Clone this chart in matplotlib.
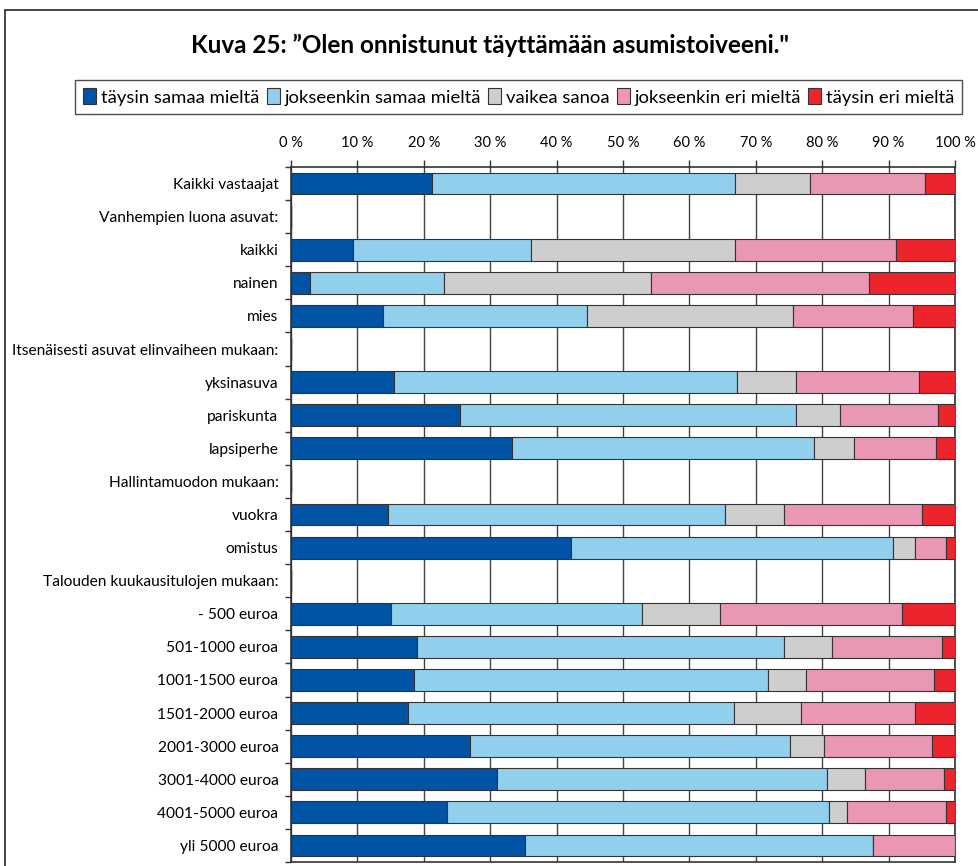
import matplotlib
matplotlib.use("Agg")
import matplotlib.pyplot as plt
from matplotlib.patches import Rectangle, Patch
import numpy as np

plt.rcParams['font.family'] = ['Lato', 'DejaVu Sans']

categories = ["Kaikki vastaajat", "Vanhempien luona asuvat:", "kaikki", "nainen", "mies",
              "Itsenäisesti asuvat elinvaiheen mukaan:", "yksinasuva", "pariskunta", "lapsiperhe",
              "Hallintamuodon mukaan:", "vuokra", "omistus",
              "Talouden kuukausitulojen mukaan:", "- 500 euroa", "501-1000 euroa", "1001-1500 euroa",
              "1501-2000 euroa", "2001-3000 euroa", "3001-4000 euroa", "4001-5000 euroa", "yli 5000 euroa"]

series_names = ["täysin samaa mieltä", "jokseenkin samaa mieltä", "vaikea sanoa",
                "jokseenkin eri mieltä", "täysin eri mieltä"]

taysin_samaa = [21.2, 0, 9.3, 2.8, 13.8, 0, 15.5, 25.4, 33.3, 0, 14.6, 42.1, 0, 15.0, 19.0, 18.5, 17.6, 27.0, 31.0, 23.5, 35.3]
jokseenkin_samaa = [45.7, 0, 26.9, 20.2, 30.8, 0, 51.6, 50.6, 45.4, 0, 50.7, 48.6, 0, 37.8, 55.2, 53.4, 49.1, 48.1, 49.7, 57.5, 52.3]
vaikea_sanoa = [11.3, 0, 30.7, 31.2, 31.0, 0, 9.0, 6.7, 6.1, 0, 8.9, 3.3, 0, 11.8, 7.3, 5.6, 10.1, 5.2, 5.7, 2.8, 0.0]
jokseenkin_eri = [17.3, 0, 24.2, 32.9, 18.0, 0, 18.5, 14.7, 12.4, 0, 20.8, 4.6, 0, 27.4, 16.6, 19.3, 17.2, 16.2, 11.9, 14.8, 12.4]
taysin_eri = [4.5, 0, 8.9, 12.9, 6.4, 0, 5.4, 2.6, 2.8, 0, 5.0, 1.4, 0, 8.0, 1.9, 3.2, 6.0, 3.5, 1.7, 1.4, 0.0]

colors = ["#0053A5", "#92CFEC", "#CECECE", "#EA97B3", "#EE242C"]
xticks = [0, 10, 20, 30, 40, 50, 60, 70, 80, 90, 100]
xticklabels = [f"{v} %" for v in xticks]

fig = plt.figure(figsize=(9.79, 8.66), dpi=100)

# outer frame
fig.patches.append(Rectangle((5/979, -0.05), 1.1, 1 - 10/866 + 0.05, transform=fig.transFigure,
                             fill=False, edgecolor="#222222", linewidth=1.2, clip_on=False))

ax = fig.add_axes([291/979, 1 - 862/866, 664/979, (862 - 167)/866])

data = [taysin_samaa, jokseenkin_samaa, vaikea_sanoa, jokseenkin_eri, taysin_eri]
y = np.arange(len(categories))
left = np.zeros(len(categories))
for vals, col, name in zip(data, colors, series_names):
    vals = np.array(vals, dtype=float)
    ax.barh(y, vals, left=left, height=0.66, color=col, edgecolor="#333333",
            linewidth=0.8, label=name, zorder=3)
    left += vals

ax.set_xlim(0, 100)
ax.set_ylim(len(categories) - 0.5, -0.5)
ax.xaxis.tick_top()
ax.set_xticks(xticks)
ax.set_xticklabels(xticklabels, fontsize=10.5)
ax.tick_params(axis='x', direction='out', length=5, width=1, pad=7, color="#333333")
ax.grid(axis='x', color="#444444", linewidth=1.0, zorder=0)
ax.set_yticks(y)
ax.set_yticklabels(categories, fontsize=11.2)
ax.tick_params(axis='y', length=0, pad=9)
ax.set_yticks(np.arange(len(categories) + 1) - 0.5, minor=True)
ax.tick_params(axis='y', which='minor', length=4, width=1, color="#333333", direction='out')
for s in ax.spines.values():
    s.set_color("#333333")
    s.set_linewidth(1.2)

fig.text(490/979, 1 - 45/866, "Kuva 25: \u201dOlen onnistunut täyttämään asumistoiveeni.\"",
         ha='center', va='center', fontsize=17.5, fontweight='bold')

handles = [Patch(facecolor=c, edgecolor="#333333", linewidth=0.8) for c in colors]
leg = fig.legend(handles, series_names, loc='upper left', bbox_to_anchor=(75/979, 1 - 80/866),
                 ncol=5, fontsize=13.3, frameon=True, fancybox=False, handlelength=0.7,
                 handleheight=0.95, handletextpad=0.25, columnspacing=0.4, borderpad=0.45,
                 borderaxespad=0, edgecolor="#222222")
leg.get_frame().set_linewidth(1.0)

fig.savefig("out.png", dpi=100)
